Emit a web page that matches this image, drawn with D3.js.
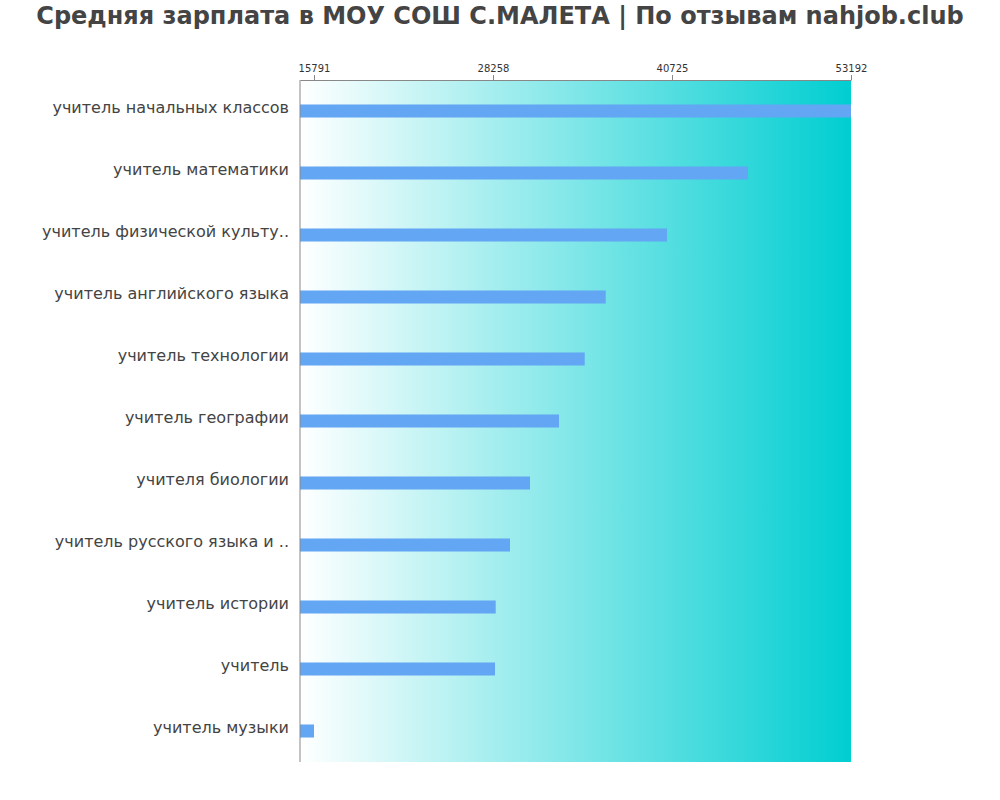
<!DOCTYPE html>
<html><head><meta charset="utf-8">
<script src="https://cdn.jsdelivr.net/npm/d3@7"></script>
<style>body{margin:0;background:#fff}svg{display:block}</style>
</head><body>
<svg id="c" width="1000" height="800"></svg>
<script>
const categories = ["учитель начальных классов","учитель математики","учитель физической культу..","учитель английского языка","учитель технологии","учитель географии","учителя биологии","учитель русского языка и ..","учитель истории","учитель","учитель музыки"];
const values = [53192,46019,40378,36108,34645,32855,30836,29443,28446,28398,15791];
const tickValues = [15791,28258,40725,53192];
const title = "Средняя зарплата в МОУ СОШ С.МАЛЕТА | По отзывам nahjob.club";

(function(){
const svg = d3.select("#c");
const pL = 300, pR = 851, pT = 80, pB = 762;
const x = d3.scaleLinear().domain([14816, 53192]).range([pL, pR]);
const y = d3.scaleBand().domain(categories).range([pT, pB]).paddingInner(0.79).paddingOuter(0.395);

const defs = svg.append("defs");
const g = defs.append("linearGradient").attr("id","bg").attr("x1","0").attr("x2","1").attr("y1","0").attr("y2","0");
g.append("stop").attr("offset","0").attr("stop-color","#ffffff");
g.append("stop").attr("offset","1").attr("stop-color","#00ced1");

svg.append("rect").attr("x",pL).attr("y",pT).attr("width",pR-pL).attr("height",pB-pT).attr("fill","url(#bg)");

svg.selectAll("rect.bar").data(values).enter().append("rect").attr("class","bar")
  .attr("x", x(x.domain()[0]))
  .attr("y",(d,i)=>y(categories[i]))
  .attr("width",d=>x(d)-x(x.domain()[0]))
  .attr("height",y.bandwidth())
  .attr("fill","#63a6f4");

const ax = svg.append("g").attr("transform",`translate(0,${pT})`)
  .call(d3.axisTop(x).tickValues(tickValues).tickSize(5).tickSizeOuter(0).tickFormat(d3.format("d")));
ax.select(".domain").attr("stroke","#888");
ax.selectAll(".tick line").attr("stroke","#888");
ax.selectAll("text").attr("fill","#333").style("font-family","DejaVu Sans").style("font-size","10px");

svg.append("line").attr("x1",pL).attr("x2",pL).attr("y1",pT).attr("y2",pB).attr("stroke","#888");

svg.selectAll("text.lab").data(categories).enter().append("text").attr("class","lab")
  .attr("x",289).attr("y",d=>y(d)+y.bandwidth()/2+2)
  .attr("text-anchor","end").attr("fill","#444")
  .style("font-family","DejaVu Sans").style("font-size","16px").text(d=>d);

svg.append("text").attr("x",500).attr("y",24).attr("text-anchor","middle")
  .attr("fill","#444").style("font-family","DejaVu Sans").style("font-weight","bold").style("font-size","24px").text(title);
})();
</script>
</body></html>
